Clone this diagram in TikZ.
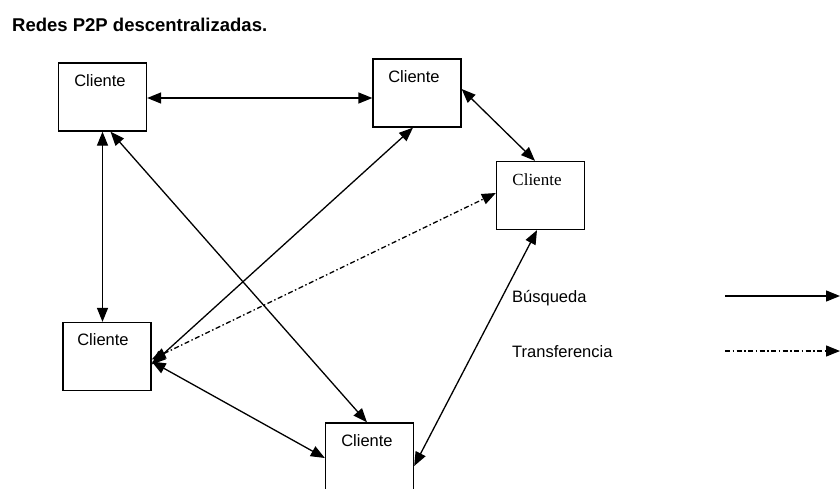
\documentclass[tikz,border=0pt]{standalone}
\usepackage{fontspec}
\setmainfont{Liberation Sans}
\newfontfamily\serifC{Liberation Serif}
\usetikzlibrary{arrows.meta}
\begin{document}
\begin{tikzpicture}[x=1pt,y=-1pt,
  box/.style={draw,line width=1.3pt,minimum width=88pt,minimum height=68pt,inner sep=0pt},
  lbl/.style={font=\fontsize{16.5}{19}\selectfont,inner sep=0pt},
  tip/.style={-{Triangle[length=14pt,width=11pt]}},
  bi/.style={{Triangle[length=14pt,width=11pt]}-{Triangle[length=14pt,width=11pt]}},
  link/.style={line width=1.3pt},
  transf/.style={line width=1.3pt,dash pattern=on 5pt off 2.5pt on 1.5pt off 2.5pt}]
\useasboundingbox (0,0) rectangle (840,488);
\fill[white] (0,0) rectangle (840,488);
\node[anchor=west,inner sep=0pt,font=\bfseries\fontsize{18.5}{21}\selectfont] (title) at (12,25) {Redes P2P descentralizadas.};
% boxes
\node[box] (A) at (102.5,97) {};
\node[box] (B) at (417,93) {};
\node[box] (C) at (540.5,195.5) {};
\node[box] (D) at (107,356.5) {};
\node[box,minimum height=70pt] (E) at (369.5,458) {};
% box labels
\node[lbl] (tA) at (100,81) {Cliente};
\node[lbl] (tB) at (414,77) {Cliente};
\node[lbl,font=\serifC\fontsize{17}{19}\selectfont] (tC) at (537,180) {Cliente};
\node[lbl] (tD) at (103,340) {Cliente};
\node[lbl] (tE) at (367,441) {Cliente};
% connectors
\draw[link,bi] (A.east |- 0,98) -- (B.west |- 0,98);
\draw[link,bi] (A.south) -- (A.south |- D.north);
\draw[link,bi] ([xshift=8pt]A.south) -- ([xshift=-2.5pt]E.north);
\draw[link,bi] ([yshift=-8pt]D.east) -- ([xshift=-4pt]B.south);
\draw[link,bi] ([yshift=4pt]B.east) -- ([xshift=-5.5pt]C.north);
\draw[link,bi] ([yshift=-8pt]E.east) -- ([xshift=-3.5pt]C.south);
\draw[transf,bi] ([yshift=-3pt]D.east) -- ([yshift=2.5pt]C.west);
\draw[link,bi] ([yshift=-5pt]D.east) -- ([yshift=0pt]E.west);
% legend
\node[lbl,anchor=west] (lb) at (512,298) {Búsqueda};
\node[lbl,anchor=west] (lt) at (512,352) {Transferencia};
\coordinate (l1a) at (725,296);
\coordinate (l1b) at (840,296);
\coordinate (l2a) at (725,351);
\coordinate (l2b) at (840,351);
\draw[link,tip] (l1a) -- (l1b);
\draw[transf,tip] (l2a) -- (l2b);
\end{tikzpicture}
\end{document}
